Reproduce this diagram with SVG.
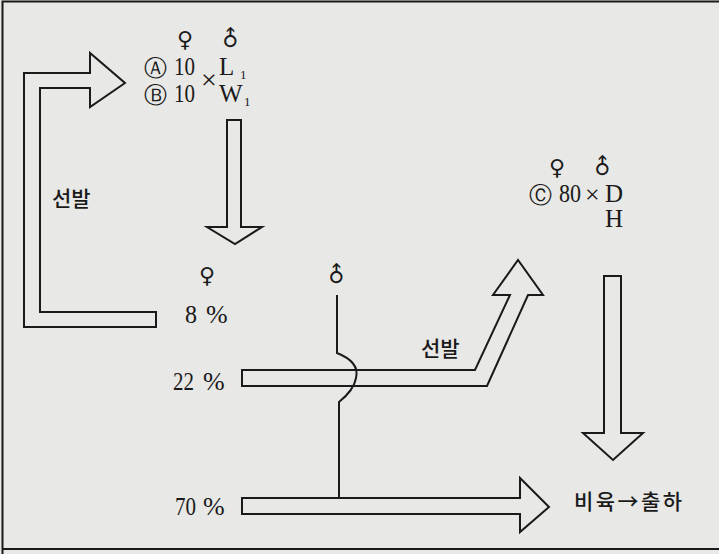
<svg xmlns="http://www.w3.org/2000/svg" width="719" height="554" viewBox="0 0 719 554">
<style>
.ol{fill:none;stroke:#1a1a1a;stroke-width:2;stroke-linejoin:miter}
.ln{fill:none;stroke:#1a1a1a;stroke-width:2}
.t{font-family:"Liberation Serif","DejaVu Serif",serif;fill:#1a1a1a}
.k{font-family:"Noto Sans CJK KR","Noto Sans",sans-serif;fill:#1a1a1a;font-size:21px;font-weight:500}
.sym{font-family:"DejaVu Sans",sans-serif;fill:#1a1a1a;font-size:22px}
.c{font-family:"DejaVu Sans",sans-serif;fill:#1a1a1a;font-size:23px}
</style>
<rect x="0" y="0" width="719" height="554" fill="#e8e8e6"/>
<path class="ln" d="M721 1.5 H2.5 V554 M2.5 549 H721" stroke-width="2.5"/>
<g id="connectors">
  <path id="loop-arrow" class="ol" d="M156 312 V327 H24 V73 H90 V53 L125 83 L90 107 V88 H40 V312 Z"/>
  <path id="down-arrow-1" class="ol" d="M227 120 H241 V227 H262 L235 244 L207 227 H227 Z"/>
  <path id="bar-22" class="ol" d="M242 370 H475 L510 295 H493 L518 260 L543 295 H528 L487 386 H242 Z"/>
  <path id="bar-70" class="ol" d="M242 498 H520 V478 L549 507 L520 532 V514 H242 Z"/>
  <path id="male-line" class="ln" d="M337 295 V353 Q360 362 356 378 Q354 390 339 402 V498"/>
  <path id="down-arrow-2" class="ol" d="M604 276 H621 V433 H643 L613 460 L583 433 H604 Z"/>
</g>
<g id="node-parents">
  <text class="sym" x="185" y="47" text-anchor="middle">♀</text>
  <text class="sym" x="230" y="46" text-anchor="middle" transform="rotate(-45 230 38)">♂</text>
  <text class="c" x="144" y="76">Ⓐ</text>
  <text class="t" x="174" y="75" font-size="25" textLength="21" lengthAdjust="spacingAndGlyphs">10</text>
  <text class="t" x="219" y="75" font-size="25">L</text>
  <text class="t" x="240" y="79" font-size="13">1</text>
  <text class="t" x="201" y="89" font-size="28">×</text>
  <text class="c" x="144" y="103">Ⓑ</text>
  <text class="t" x="174" y="102" font-size="25" textLength="21" lengthAdjust="spacingAndGlyphs">10</text>
  <text class="t" x="219" y="102" font-size="25">W</text>
  <text class="t" x="244" y="106" font-size="13">1</text>
</g>
<g id="node-select-1">
  <text class="k" x="52" y="206">선발</text>
</g>
<g id="node-percent">
  <text class="sym" x="207" y="283" text-anchor="middle">♀</text>
  <text class="t" x="185" y="323" font-size="26" textLength="12" lengthAdjust="spacingAndGlyphs">8</text>
  <text class="t" x="206" y="323" font-size="26">%</text>
  <text class="t" x="173" y="390" font-size="26" textLength="21" lengthAdjust="spacingAndGlyphs">22</text>
  <text class="t" x="203" y="390" font-size="26">%</text>
  <text class="t" x="175" y="515" font-size="26" textLength="21" lengthAdjust="spacingAndGlyphs">70</text>
  <text class="t" x="203" y="515" font-size="26">%</text>
</g>
<g id="node-male">
  <text class="sym" x="336" y="282" text-anchor="middle" transform="rotate(-45 336 274)">♂</text>
</g>
<g id="node-select-2">
  <text class="k" x="421" y="356">선발</text>
</g>
<g id="node-c">
  <text class="sym" x="557" y="175" text-anchor="middle">♀</text>
  <text class="sym" x="602" y="174" text-anchor="middle" transform="rotate(-45 602 166)">♂</text>
  <text class="c" x="529" y="203">Ⓒ</text>
  <text class="t" x="559" y="202" font-size="25" textLength="22" lengthAdjust="spacingAndGlyphs">80</text>
  <text class="t" x="585" y="203" font-size="26">×</text>
  <text class="t" x="605" y="202" font-size="25">D</text>
  <text class="t" x="605" y="227" font-size="25">H</text>
</g>
<g id="node-output">
  <text class="k" x="574" y="509" textLength="108">비육→출하</text>
</g>
</svg>
